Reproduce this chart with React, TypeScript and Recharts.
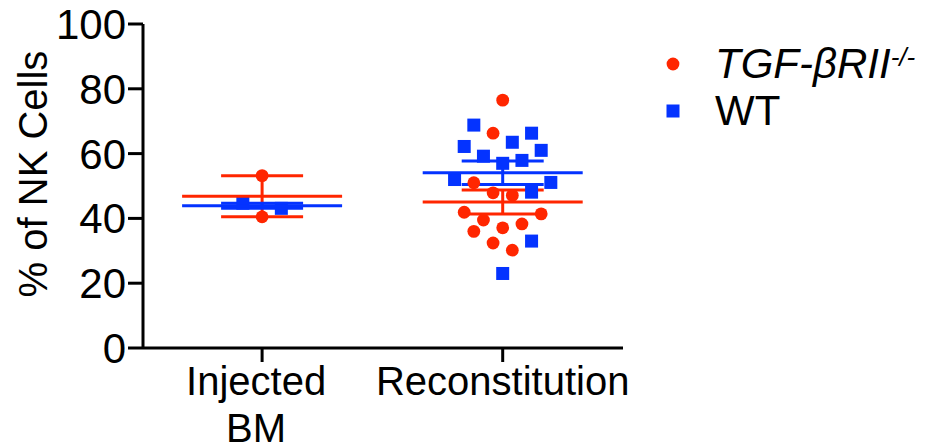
import { ErrorBar, Label, Legend, Scatter, ScatterChart, XAxis, YAxis } from "recharts";

const categories = ["Injected BM", "Reconstitution"];
const yTicks = [0, 20, 40, 60, 80, 100];

// % of NK cells per mouse, one inner list per category
const tgfValues = [
  [53.2, 40.5],
  [76.5, 66.3, 51.0, 47.9, 47.1, 41.9, 41.4, 39.5, 38.3, 37.1, 36.0, 32.4, 30.2],
];
// column of each dot inside the swarm (0 = category centre)
const tgfSlots = [
  [0, 0],
  [0, -1, -3, -1, 1, -4, 4, -2, 2, 0, -3, -1, 1],
];
const wtValues = [
  [44.7, 43.1],
  [68.8, 66.3, 63.5, 62.2, 61.0, 59.2, 57.9, 57.0, 52.0, 51.1, 48.1, 33.0, 23.0],
];
const wtSlots = [
  [-2, 2],
  [-3, 3, 1, -4, 4, -2, 2, 0, -5, 5, 3, 3, 0],
];

const RED = "#FF2600";
const BLUE = "#0433FF";
const FONT = "'Liberation Sans', Arial, sans-serif";
const SLOT = 0.04;

const toPoints = (values: number[][], slots: number[][]) =>
  values.flatMap((vals, g) => vals.map((v, i) => ({ x: g + 1 + slots[g][i] * SLOT, y: v })));

// mean ± SEM per category
const toSummary = (values: number[][]) =>
  values.map((vals, g) => {
    const n = vals.length;
    const mean = vals.reduce((a, b) => a + b, 0) / n;
    const sd = Math.sqrt(vals.reduce((a, b) => a + (b - mean) ** 2, 0) / (n - 1));
    return { x: g + 1, y: mean, err: sd / Math.sqrt(n) };
  });

const tgfPoints = toPoints(tgfValues, tgfSlots);
const wtPoints = toPoints(wtValues, wtSlots);
const tgfSummary = toSummary(tgfValues);
const wtSummary = toSummary(wtValues);

const Dot = (p: any) => <circle cx={p.cx} cy={p.cy} r={6.4} fill={RED} />;
const Square = (p: any) => <rect x={p.cx - 6.5} y={p.cy - 6.5} width={13} height={13} fill={BLUE} />;
const meanLine = (color: string) => (p: any) =>
  <line x1={p.cx - 80} x2={p.cx + 80} y1={p.cy} y2={p.cy} stroke={color} strokeWidth={3} />;

const CategoryTick = ({ x, y, payload }: any) => {
  const words = categories[payload.value - 1].split(" ");
  const shift = words.length > 1 ? -6 : 0;
  return (
    <text x={x + shift} y={y} textAnchor="middle" fontSize={40} fontFamily={FONT} fill="#000">
      {words.map((w, i) => (
        <tspan key={w} x={x + shift} dy={i === 0 ? 31 : 47}>{w}</tspan>
      ))}
    </text>
  );
};

const LegendBox = () => (
  <div style={{ fontFamily: FONT, fontSize: 42, lineHeight: "47px", color: "#000" }}>
    <div style={{ display: "flex", alignItems: "center" }}>
      <svg width={55} height={20}><circle cx={13} cy={10} r={6.4} fill={RED} /></svg>
      <span style={{ fontStyle: "italic" }}>
        TGF-βRII<sup style={{ fontSize: 26, verticalAlign: "12px", lineHeight: 0 }}>-/-</sup>
      </span>
    </div>
    <div style={{ display: "flex", alignItems: "center" }}>
      <svg width={55} height={20}><rect x={6.5} y={3.5} width={13} height={13} fill={BLUE} /></svg>
      <span>WT</span>
    </div>
  </div>
);

export default function App() {
  return (
    <div style={{ position: "absolute", left: 0, top: 0, fontFamily: FONT }}>
      <ScatterChart width={929} height={448} margin={{ top: 24, right: 306, bottom: 0, left: 0 }}>
        <XAxis
          type="number"
          dataKey="x"
          domain={[0.505, 2.5]}
          ticks={[1, 2]}
          height={100}
          tickSize={14}
          stroke="#000"
          strokeWidth={3}
          tick={<CategoryTick />}
          allowDataOverflow
        />
        <YAxis
          type="number"
          dataKey="y"
          domain={[0, 100]}
          ticks={yTicks}
          width={143}
          tickSize={15}
          stroke="#000"
          strokeWidth={3}
          tick={{ fontSize: 42, fill: "#000", fontFamily: FONT }}
        >
          <Label
            content={() => (
              <text x={47} y={174} transform="rotate(-90 47 174)" textAnchor="middle" fontSize={40} fontFamily={FONT} fill="#000">
                % of NK Cells
              </text>
            )}
          />
        </YAxis>
        <Legend
          layout="vertical"
          align="center"
          verticalAlign="middle"
          wrapperStyle={{ left: 660, top: 40, width: 269 }}
          content={() => <LegendBox />}
        />
        <Scatter data={tgfPoints} shape={Dot} isAnimationActive={false} />
        <Scatter data={wtPoints} shape={Square} isAnimationActive={false} />
        <Scatter data={tgfSummary} shape={meanLine(RED)} isAnimationActive={false}>
          <ErrorBar dataKey="err" direction="y" width={41} stroke={RED} strokeWidth={3} isAnimationActive={false} />
        </Scatter>
        <Scatter data={wtSummary} shape={meanLine(BLUE)} isAnimationActive={false}>
          <ErrorBar dataKey="err" direction="y" width={41} stroke={BLUE} strokeWidth={3} isAnimationActive={false} />
        </Scatter>
      </ScatterChart>
    </div>
  );
}
